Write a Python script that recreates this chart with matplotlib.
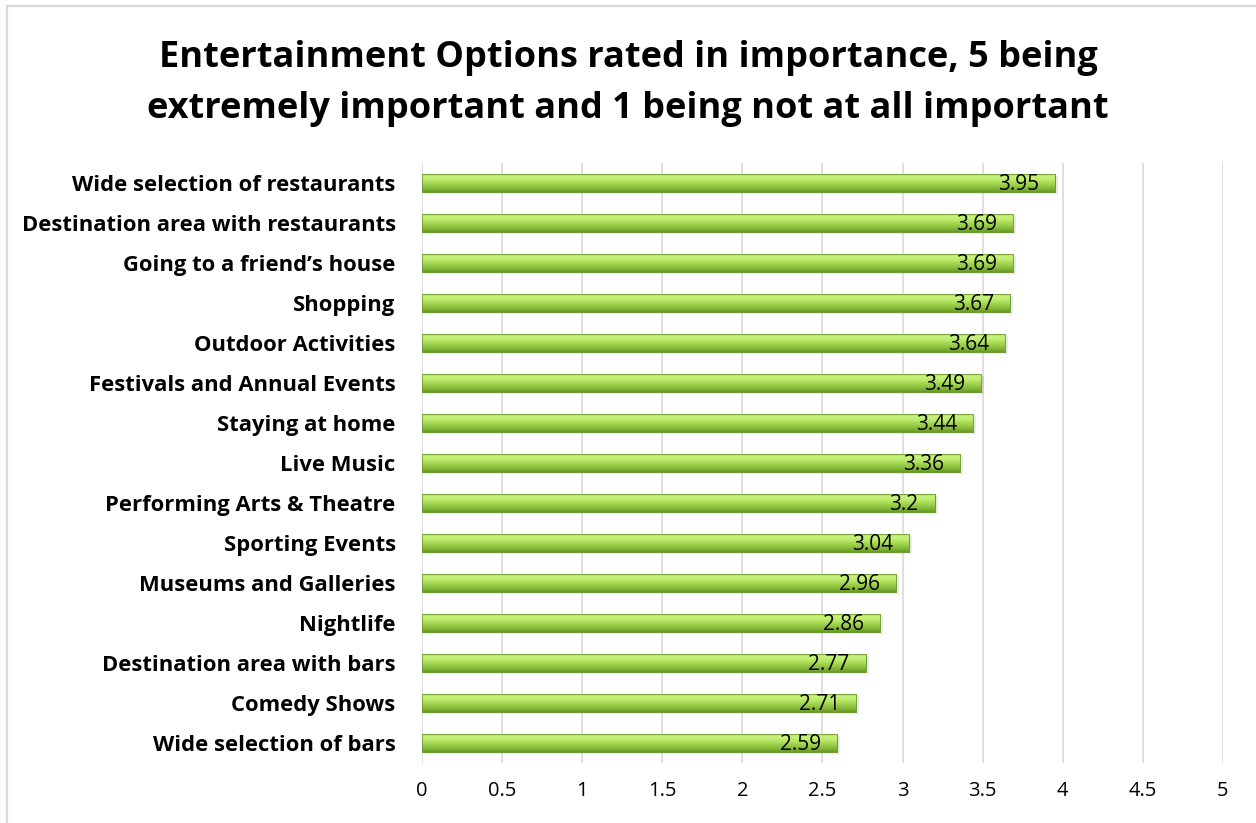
import matplotlib
matplotlib.use("Agg")
import matplotlib.pyplot as plt
import numpy as np
from matplotlib.colors import LinearSegmentedColormap
from matplotlib.lines import Line2D

categories = [
    "Wide selection of restaurants",
    "Destination area with restaurants",
    "Going to a friend\u2019s house",
    "Shopping",
    "Outdoor Activities",
    "Festivals and Annual Events",
    "Staying at home",
    "Live Music",
    "Performing Arts & Theatre",
    "Sporting Events",
    "Museums and Galleries",
    "Nightlife",
    "Destination area with bars",
    "Comedy Shows",
    "Wide selection of bars",
]
values = [3.95, 3.69, 3.69, 3.67, 3.64, 3.49, 3.44, 3.36, 3.2, 3.04, 2.96, 2.86, 2.77, 2.71, 2.59]
value_labels = ["3.95", "3.69", "3.69", "3.67", "3.64", "3.49", "3.44", "3.36", "3.2", "3.04",
                "2.96", "2.86", "2.77", "2.71", "2.59"]
xticks = [0, 0.5, 1, 1.5, 2, 2.5, 3, 3.5, 4, 4.5, 5]
xtick_labels = ["0", "0.5", "1", "1.5", "2", "2.5", "3", "3.5", "4", "4.5", "5"]
title_lines = ["Entertainment Options rated in importance, 5 being",
               "extremely important and 1 being not at all important"]

plt.rcParams["font.family"] = ["Open Sans", "DejaVu Sans"]

W, H = 1256, 823
fig = plt.figure(figsize=(W / 100, H / 100), dpi=100)

# chart-area frame (left and top edges fall inside the canvas)
frame_x, frame_y = 6.5 / W, 1 - 5.5 / H
fig.add_artist(Line2D([frame_x, frame_x], [0, frame_y], transform=fig.transFigure,
                      color="#d9d9d9", linewidth=1.6))
fig.add_artist(Line2D([frame_x, 1], [frame_y, frame_y], transform=fig.transFigure,
                      color="#d9d9d9", linewidth=1.6))

ax = fig.add_axes([0.336, 0.0729, 0.6377, 0.7291])

n = len(categories)
ypos = np.arange(n)[::-1]
bar_h = 0.45

green = LinearSegmentedColormap.from_list(
    "bar", ["#6a9a2a", "#86bb3a", "#9fd24c", "#b6e766", "#c8f27e", "#a9dc55"])
grad = np.linspace(0, 1, 64).reshape(-1, 1)

for y, v, lab in zip(ypos, values, value_labels):
    # soft drop shadow
    ax.barh(y - 0.06, v + 0.01, height=bar_h, left=0.01, color="#000000", alpha=0.08,
            linewidth=0, zorder=2)
    bar = ax.barh(y, v, height=bar_h, color="#9bd14b", edgecolor="#6f9a32",
                  linewidth=0.6, zorder=3)[0]
    im = ax.imshow(grad, extent=(0, v, y - bar_h / 2, y + bar_h / 2), aspect="auto",
                   cmap=green, origin="lower", zorder=3.5, interpolation="bilinear")
    im.set_clip_path(bar)
    ax.barh(y, v, height=bar_h, fill=False, edgecolor="#6f9a32", linewidth=0.6, zorder=4)
    ax.text(v - 0.1, y - 0.04, lab, ha="right", va="center", fontsize=15,
            color="#000000", zorder=5)

ax.set_xlim(0, 5)
ax.set_ylim(-0.5, n - 0.5)
ax.set_xticks(xticks)
ax.set_xticklabels(xtick_labels, fontsize=14.5)
ax.set_yticks(ypos)
ax.set_yticklabels(categories, fontsize=15.8, fontweight="bold")
ax.tick_params(axis="both", length=0)
ax.tick_params(axis="x", pad=13)
ax.tick_params(axis="y", pad=19)
ax.grid(axis="x", color="#d9d9d9", linewidth=1.2, zorder=0)
ax.set_axisbelow(True)
for s in ax.spines.values():
    s.set_visible(False)

fig.text(0.5, 1 - 67 / H, title_lines[0], ha="center", va="baseline",
         fontsize=26, fontweight="bold")
fig.text(0.5, 1 - 118 / H, title_lines[1], ha="center", va="baseline",
         fontsize=26, fontweight="bold")

fig.savefig("out.png", dpi=100)
